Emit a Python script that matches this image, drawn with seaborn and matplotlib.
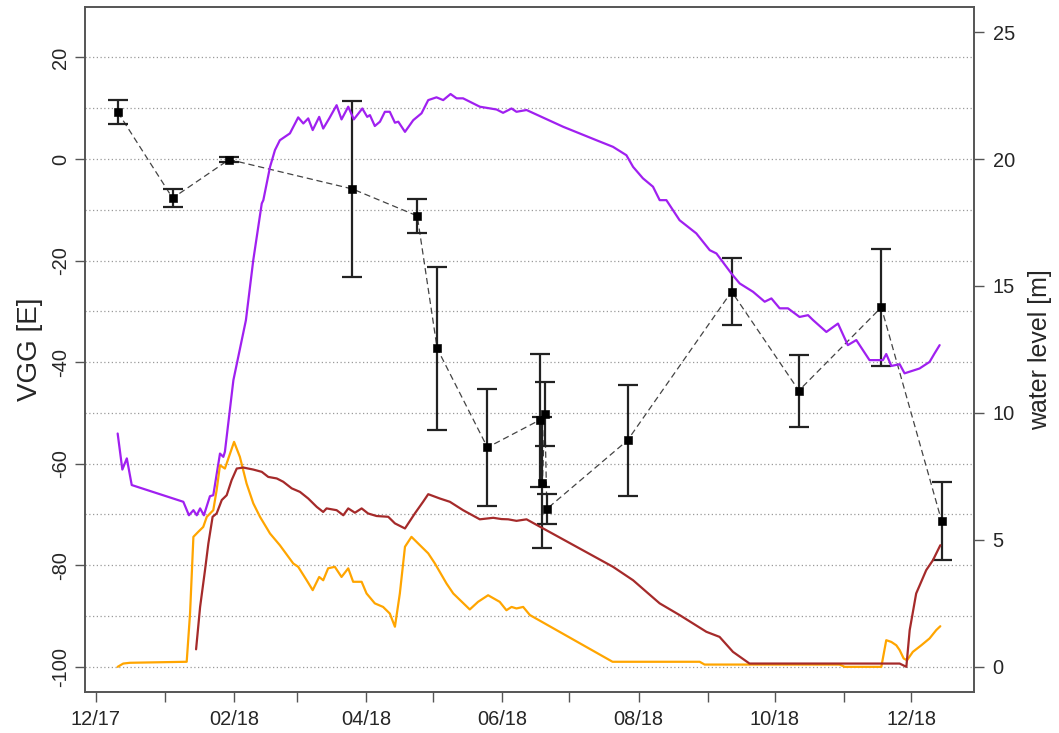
import numpy as np
import pandas as pd
import seaborn as sns
import matplotlib.pyplot as plt

# day offsets are counted from 2017-12-01
start = pd.Timestamp("2017-12-01")

# VGG measurements (left axis) with error
vgg_day = [9.9, 34.4, 59.7, 114.9, 143.9, 152.8, 175.3, 198.7, 199.9, 201.0, 201.9,
           238.0, 284.6, 314.7, 351.6, 378.6]
vgg_val = [9.2, -7.7, -0.1, -5.9, -11.2, -37.3, -56.8, -51.4, -63.7, -50.2, -68.9,
           -55.4, -26.1, -45.6, -29.2, -71.3]
vgg_err = [2.4, 1.7, 0.5, 17.4, 3.3, 16.1, 11.6, 13.1, 12.9, 6.3, 2.9,
           10.9, 6.6, 7.1, 11.5, 7.7]

# water levels (right axis)
purple_day = [9.8, 11.9, 13.9, 16.1, 39.2, 41.7, 43.7, 45.2, 46.7, 48.4, 51.1, 52.6, 55.6,
              57.1, 57.8, 61.6, 67.2, 70.5, 74.3, 75.0, 78.0, 80.2, 82.4, 86.9, 89.2, 90.6,
              92.9, 95.1, 97.1, 100.0, 101.8, 104.5, 107.8, 110.0, 113.0, 115.5, 119.3,
              121.5, 122.7, 124.9, 127.2, 129.4, 131.6, 133.9, 135.4, 138.4, 142.1, 145.8,
              148.8, 152.5, 155.5, 158.8, 161.5, 164.4, 171.9, 179.4, 182.3, 186.1, 188.3,
              192.8, 209.2, 224.1, 231.5, 237.5, 240.5, 244.9, 249.4, 252.4, 255.4, 261.3,
              268.8, 274.8, 277.8, 284.5, 288.2, 294.2, 299.4, 302.4, 306.1, 309.8, 315.0,
              318.8, 321.0, 327.0, 332.2, 336.6, 340.4, 346.3, 352.3, 353.8, 356.1, 359.8,
              362.0, 368.7, 373.2, 375.4, 377.7]
purple_lvl = [9.19, 7.77, 8.21, 7.16, 6.50, 5.97, 6.17, 5.97, 6.24, 5.97, 6.72, 6.76, 8.40,
              8.27, 8.47, 11.29, 13.65, 16.02, 18.25, 18.38, 19.69, 20.35, 20.74, 21.01, 21.40,
              21.64, 21.40, 21.60, 21.14, 21.66, 21.20, 21.60, 22.12, 21.56, 22.06, 21.56,
              21.99, 21.66, 21.73, 21.30, 21.47, 21.86, 21.86, 21.43, 21.47, 21.07, 21.53,
              21.80, 22.32, 22.43, 22.32, 22.56, 22.39, 22.39, 22.06, 21.95, 21.82, 21.99,
              21.86, 21.93, 21.27, 20.74, 20.48, 20.15, 19.69, 19.24, 18.91, 18.38, 18.38,
              17.59, 17.07, 16.41, 16.28, 15.49, 15.10, 14.77, 14.38, 14.51, 14.12, 14.12,
              13.78, 13.85, 13.66, 13.19, 13.52, 12.67, 12.87, 12.08, 12.08, 12.32, 11.85,
              11.92, 11.56, 11.75, 12.01, 12.34, 12.67]

orange_day = [9.8, 12.3, 15.3, 40.7, 42.2, 43.7, 45.9, 48.1, 49.7, 52.6, 54.1, 55.6, 57.8,
              61.9, 64.5, 67.5, 70.5, 73.5, 78.0, 82.4, 88.4, 90.6, 94.4, 97.1, 100.0, 101.8,
              104.0, 107.0, 110.0, 113.0, 115.2, 119.0, 121.2, 124.9, 128.6, 131.6, 133.9,
              136.1, 138.4, 141.3, 145.1, 148.8, 151.8, 157.0, 160.0, 167.4, 171.1, 175.6,
              180.8, 183.8, 186.1, 188.3, 191.3, 194.3, 231.3, 270.3, 272.5, 332.9, 335.2,
              351.6, 353.8, 356.1, 358.3, 359.8, 361.6, 363.1, 365.7, 369.5, 373.2, 376.2,
              378.0]
orange_lvl = [0.00, 0.13, 0.16, 0.20, 2.10, 5.12, 5.32, 5.51, 5.91, 6.17, 6.96, 7.94, 7.81,
              8.86, 8.27, 7.22, 6.44, 5.91, 5.25, 4.79, 4.07, 3.94, 3.41, 3.02, 3.54, 3.41,
              3.88, 3.94, 3.54, 3.88, 3.35, 3.35, 2.89, 2.50, 2.36, 2.10, 1.58, 2.89, 4.73,
              5.12, 4.79, 4.47, 4.07, 3.28, 2.89, 2.26, 2.56, 2.82, 2.56, 2.23, 2.36, 2.30,
              2.36, 2.04, 0.20, 0.20, 0.09, 0.09, 0.00, 0.00, 1.05, 0.98, 0.85, 0.66, 0.33,
              0.26, 0.59, 0.85, 1.12, 1.45, 1.60]

brown_day = [44.9, 46.7, 48.9, 50.4, 52.3, 54.1, 56.4, 58.6, 60.8, 63.1, 66.0, 70.5, 74.3,
             77.2, 81.0, 83.9, 87.7, 91.4, 95.1, 98.9, 101.8, 103.3, 107.8, 110.8, 113.0,
             116.0, 119.0, 121.9, 125.7, 130.9, 133.9, 138.4, 142.8, 146.5, 148.8, 154.0,
             158.5, 164.4, 171.9, 177.9, 181.6, 184.6, 188.3, 192.8, 231.5, 240.5, 246.5,
             252.4, 261.3, 273.3, 279.2, 285.2, 292.6, 359.8, 362.8, 364.3, 367.2, 371.7,
             374.7, 378.0]
brown_lvl = [0.69, 2.36, 3.81, 4.86, 5.91, 6.04, 6.57, 6.76, 7.35, 7.81, 7.85, 7.77, 7.68,
             7.48, 7.42, 7.29, 7.03, 6.89, 6.63, 6.30, 6.10, 6.24, 6.17, 5.97, 6.24, 6.07,
             6.24, 6.04, 5.94, 5.91, 5.65, 5.45, 6.04, 6.50, 6.80, 6.63, 6.50, 6.17, 5.81,
             5.87, 5.82, 5.81, 5.75, 5.81, 3.94, 3.41, 2.95, 2.50, 2.04, 1.38, 1.18, 0.59,
             0.13, 0.13, 0.00, 1.45, 2.89, 3.81, 4.20, 4.79]

month_ticks = pd.date_range("2017-12-01", "2018-12-01", freq="MS")


def to_date(days):
    return start + pd.to_timedelta(np.array(days), unit="D")


vgg = pd.DataFrame({"date": to_date(vgg_day), "vgg": vgg_val, "err": vgg_err})
levels = pd.concat([
    pd.DataFrame({"date": to_date(purple_day), "level": purple_lvl, "series": "a"}),
    pd.DataFrame({"date": to_date(orange_day), "level": orange_lvl, "series": "b"}),
    pd.DataFrame({"date": to_date(brown_day), "level": brown_lvl, "series": "c"}),
], ignore_index=True)

sns.set_theme(style="white")
plt.rcParams["font.family"] = ["Liberation Sans", "DejaVu Sans"]
plt.rcParams["axes.unicode_minus"] = False

fig = plt.figure(figsize=(10.59, 7.33), dpi=100)
ax = fig.add_axes([0.0803, 0.0563, 0.8399, 0.9346])
ax2 = ax.twinx()

# dotted grid every 10 units of the left axis
for g in range(-100, 30, 10):
    ax.axhline(g, color="#9a9a9a", lw=0.9, ls=(0, (1, 2)), zorder=0)

sns.lineplot(data=vgg, x="date", y="vgg", ax=ax, color="#444444", lw=0.9,
             linestyle=(0, (5, 3)), estimator=None, sort=False)
ax.errorbar(vgg["date"], vgg["vgg"], yerr=vgg["err"], fmt="none", ecolor="#222222",
            elinewidth=1.6, capsize=7, capthick=1.6)
sns.scatterplot(data=vgg, x="date", y="vgg", ax=ax, marker="s", s=30, color="black",
                edgecolor="black", zorder=5)

sns.lineplot(data=levels, x="date", y="level", hue="series", ax=ax2,
             palette={"a": "#A020F0", "b": "#FFA500", "c": "#A52A2A"},
             lw=1.6, estimator=None, sort=False, legend=False)

ax.set_xlim(start - pd.Timedelta(days=4.8), start + pd.Timedelta(days=393.3))
ax.set_ylim(-104.9, 30)
ax2.set_ylim(-0.98, 26)

ax.set_yticks(range(-100, 21, 20))
ax2.set_yticks(range(0, 26, 5))
ax.set_xticks(month_ticks)
ax.set_xticklabels([d.strftime("%m/%y") if i % 2 == 0 else "" for i, d in enumerate(month_ticks)])

for lab in ax.get_yticklabels():
    lab.set_rotation(90)
    lab.set_va("center")

frame_col = "#555555"
for a in (ax, ax2):
    for sp in a.spines.values():
        sp.set_color(frame_col)
        sp.set_linewidth(1.2)
ax.tick_params(axis="x", length=7, width=1, color=frame_col, labelsize=14.4, pad=6,
               direction="out", bottom=True)
ax.tick_params(axis="y", length=7, width=1, color=frame_col, labelsize=14.4, pad=4,
               direction="out", left=True)
ax2.tick_params(axis="y", length=7, width=1, color=frame_col, labelsize=14.4, pad=6,
                direction="out", right=True)

ax.set_xlabel("")
ax.set_ylabel("VGG [E]", fontsize=20, va="center")
ax.yaxis.set_label_coords(-0.0618, 0.5)
ax2.set_ylabel("water level [m]", fontsize=18, va="center", rotation=90)
ax2.yaxis.set_label_coords(1.0737, 0.5)

fig.savefig("out.png", dpi=100)
